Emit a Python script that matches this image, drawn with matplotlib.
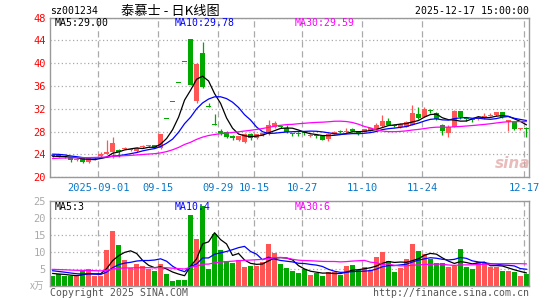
import numpy as np
import pandas as pd
import matplotlib
matplotlib.use("Agg")
import matplotlib.pyplot as plt

plt.rcParams['font.family'] = ['DejaVu Sans Mono', 'Noto Sans CJK SC']

# ---------- datos ----------
o = [23.9, 23.8, 23.7, 23.5, 23.0, 23.3, 22.6, 23.3, 23.7, 24.1,
     24.4, 24.8, 25.0, 24.7, 24.6, 25.25, 25.4, 25.6, 25.2, 30.2,
     33.2, 36.5, 40.2, 44.2, 33.4, 41.8, 32.3, 29.1, 28.2, 28.0,
     27.3, 26.5, 26.2, 27.5, 26.9, 27.35, 27.7, 28.85, 29.0, 28.6,
     27.6, 27.7, 27.8, 27.2, 27.3, 27.2, 26.75, 27.6, 28.05, 27.85,
     28.25, 28.1, 27.95, 28.15, 28.4, 29.0, 29.9, 29.1, 28.75, 28.85,
     29.2, 31.1, 30.6, 31.6, 31.3, 29.2, 27.7, 28.85, 31.65, 30.3,
     30.05, 30.15, 30.4, 30.8, 30.85, 31.4, 29.7, 29.7, 28.4, 28.5]
h = [24.0, 23.9, 23.8, 23.6, 23.3, 23.4, 23.3, 23.5, 24.4, 26.6,
     27.0, 25.0, 25.3, 25.0, 25.3, 25.7, 25.6, 25.7, 27.6, 30.2,
     33.2, 36.5, 40.2, 44.2, 40.0, 43.7, 33.0, 31.1, 28.4, 28.1,
     27.4, 27.3, 27.7, 27.7, 27.6, 27.8, 30.0, 29.85, 29.2, 29.2,
     27.8, 27.9, 28.1, 27.6, 27.5, 27.3, 27.7, 28.1, 28.3, 28.6,
     28.6, 28.2, 28.5, 28.7, 29.5, 30.9, 30.4, 29.3, 29.5, 29.8,
     32.65, 32.25, 32.3, 32.0, 31.4, 29.3, 29.2, 31.75, 31.7, 30.6,
     30.3, 30.8, 31.3, 31.2, 31.5, 31.5, 30.1, 29.8, 28.7, 28.8]
l = [23.6, 23.5, 23.4, 22.7, 22.9, 22.5, 22.5, 23.1, 23.5, 24.0,
     23.3, 23.6, 24.9, 24.6, 24.5, 25.2, 25.3, 25.1, 24.9, 30.2,
     33.2, 36.5, 40.2, 36.2, 33.1, 35.7, 32.3, 29.1, 27.4, 26.8,
     26.5, 26.4, 26.0, 26.6, 26.7, 27.2, 27.4, 28.7, 28.6, 27.8,
     27.2, 27.3, 27.4, 27.1, 26.9, 26.5, 26.4, 27.5, 27.7, 27.8,
     27.9, 27.4, 27.9, 28.1, 28.3, 28.9, 29.1, 28.8, 28.7, 28.8,
     29.1, 30.3, 30.5, 31.2, 30.0, 27.45, 27.1, 28.8, 30.3, 29.9,
     29.7, 30.1, 30.3, 30.7, 30.8, 30.4, 28.2, 28.3, 28.3, 27.1]
c = [23.7, 23.7, 23.6, 23.0, 23.2, 22.6, 23.3, 23.4, 24.0, 24.4,
     26.0, 24.4, 25.2, 24.9, 25.2, 25.5, 25.5, 25.2, 27.6, 30.2,
     33.2, 36.5, 40.2, 36.2, 39.8, 35.9, 32.3, 29.1, 27.7, 27.0,
     26.9, 27.2, 27.6, 26.9, 27.5, 27.7, 29.2, 29.55, 28.85, 27.9,
     27.5, 27.6, 27.7, 27.45, 27.2, 26.6, 27.6, 28.0, 28.0, 28.2,
     28.2, 27.5, 28.4, 28.6, 29.2, 29.9, 29.2, 29.0, 29.3, 29.7,
     31.3, 30.4, 32.0, 31.55, 30.15, 28.05, 28.75, 31.65, 30.6, 30.25,
     30.0, 30.6, 30.7, 30.85, 31.4, 30.5, 30.0, 28.5, 28.6, 28.4]
vol = [2.8, 3.4, 3.0, 2.8, 2.8, 4.2, 4.8, 2.8, 2.9, 10.4,
       16.0, 12.0, 7.7, 5.2, 6.5, 5.8, 4.8, 4.2, 6.5, 3.3,
       1.3, 1.8, 1.8, 20.7, 13.7, 23.5, 4.8, 15.2, 10.6, 7.3,
       6.6, 7.7, 5.6, 5.7, 5.8, 7.1, 12.3, 9.7, 6.4, 5.2,
       4.4, 3.8, 4.8, 3.1, 3.8, 3.0, 4.0, 4.0, 3.1, 5.8,
       6.0, 4.6, 5.4, 4.6, 8.3, 9.9, 7.4, 4.0, 5.2, 7.9,
       12.3, 10.1, 9.3, 7.9, 6.8, 6.8, 5.4, 5.8, 10.7, 5.4,
       4.8, 7.0, 6.8, 5.4, 5.6, 4.2, 4.2, 4.0, 3.0, 3.4]

# sesiones anteriores (solo para que las medias arranquen como en el gráfico)
pre_close = [22.3, 22.4, 22.5, 22.4, 22.6, 22.7, 22.6, 22.8, 22.9, 23.0,
             22.9, 23.1, 23.2, 23.0, 23.1, 23.3, 23.2, 23.4, 23.5, 23.6,
             24.0, 24.6, 24.8, 24.5, 24.1, 23.9, 23.7, 23.6, 23.6]
pre_vol = [5.2, 4.8, 5.5, 4.6, 5.0, 5.3, 4.7, 4.9, 5.1, 5.4,
           4.8, 5.0, 4.6, 5.2, 5.1, 4.9, 5.3, 4.7, 4.8, 5.1,
           5.6, 5.0, 5.3, 4.9, 5.2, 4.2, 3.6, 3.9, 3.5]

tick_dates = ["2025-09-01", "2025-09-15", "2025-09-29", "2025-10-15",
              "2025-10-27", "2025-11-10", "2025-11-24", "2025-12-17"]
tick_labels = ["2025-09-01", "09-15", "09-29", "10-15",
               "10-27", "11-10", "11-24", "12-17"]

# ---------- fechas de sesión ----------
days = pd.bdate_range("2025-08-20", "2025-12-17")
days = days[(days < "2025-10-01") | (days > "2025-10-08")]
pos = [days.get_loc(pd.Timestamp(d)) - 0.4 for d in tick_dates]

o, h, l, c, vol = map(np.array, (o, h, l, c, vol))
x = np.arange(len(c))

def ma(pre, vals, n):
    s = pd.Series(np.concatenate([pre, vals])).rolling(n).mean()
    return s.to_numpy()[len(pre):]

RED = "#ff5555"
GREEN = "#00a800"
GRID = "#aaaaaa"
col = np.where(c > o, RED, GREEN)

W, H = 545, 300
fig = plt.figure(figsize=(W / 100, H / 100), dpi=100)

def fx(px):
    return px / W

def fy(py):
    return 1 - py / H

ax = fig.add_axes([fx(50), fy(177.3), fx(529) - fx(50), fy(17.5) - fy(177.3)])
axv = fig.add_axes([fx(50), fy(285.7), fx(529) - fx(50), fy(200.7) - fy(285.7)])

for a in (ax, axv):
    a.set_xlim(-0.45, 79.45)
    a.set_xticks(pos)
    a.set_axisbelow(True)
    a.grid(axis="x", linestyle=(0, (5, 3)), color=GRID, lw=0.9)
    a.grid(axis="y", linestyle=(0, (1, 2)), color=GRID, lw=0.9)
    a.tick_params(length=0, pad=3)
    for sp in a.spines.values():
        sp.set_color("#999999")
        sp.set_linewidth(1)

# ---------- velas ----------
ax.vlines(x, l, h, colors=col, lw=0.9)
body = np.maximum(np.abs(c - o), 0.18)
ax.bar(x, body, bottom=np.minimum(o, c), width=0.83, color=col, linewidth=0)
ax.plot(x, ma(pre_close, c, 5), color="black", lw=0.9)
ax.plot(x, ma(pre_close, c, 10), color="#0000ff", lw=0.9)
ax.plot(x, ma(pre_close, c, 30), color="#ff00ff", lw=0.9)
ax.set_ylim(20, 48)
ax.set_yticks(np.arange(20, 49, 4))
ax.tick_params(axis="y", colors="#ff0000", labelsize=7.5)
ax.set_xticklabels(tick_labels, fontsize=7.5, color="#0a78c8")
ax.tick_params(axis="x", pad=4)

# ---------- volumen ----------
axv.bar(x, vol, width=0.83, color=col, linewidth=0)
axv.plot(x, ma(pre_vol, vol, 5), color="black", lw=0.9)
axv.plot(x, ma(pre_vol, vol, 10), color="#0000ff", lw=0.9)
axv.plot(x, ma(pre_vol, vol, 30), color="#ff00ff", lw=0.9)
axv.set_ylim(0, 25)
axv.set_yticks([5, 10, 15, 20, 25])
axv.tick_params(axis="y", colors="#aaaaaa", labelsize=7.5)
axv.set_xticklabels([])

# ---------- textos ----------
fs = 7.1
fig.text(fx(50), fy(11), "sz001234", fontsize=fs, va="center", ha="left")
fig.text(fx(121), fy(11), "泰慕士 - 日K线图", fontsize=9.5, va="center", ha="left",
         family=["Noto Sans CJK SC", "DejaVu Sans"])
fig.text(fx(529), fy(11), "2025-12-17 15:00:00", fontsize=fs, va="center", ha="right")
fig.text(fx(55), fy(23.5), "MA5:29.00", fontsize=fs, va="center", color="black")
fig.text(fx(175), fy(23.5), "MA10:29.78", fontsize=fs, va="center", color="#0000ff")
fig.text(fx(295), fy(23.5), "MA30:29.59", fontsize=fs, va="center", color="#ff00ff")
fig.text(fx(55), fy(206.5), "MA5:3", fontsize=fs, va="center", color="black")
fig.text(fx(175), fy(206.5), "MA10:4", fontsize=fs, va="center", color="#0000ff")
fig.text(fx(295), fy(206.5), "MA30:6", fontsize=fs, va="center", color="#ff00ff")
fig.text(fx(44), fy(285.5), "x万", fontsize=7, va="center", ha="right", color="#aaaaaa",
         family=["Noto Sans CJK SC", "DejaVu Sans"])
fig.text(fx(50), fy(292.5), "Copyright 2025 SINA.COM", fontsize=fs, va="center",
         color="#555555")
fig.text(fx(529), fy(292.5), "http://finance.sina.com.cn", fontsize=fs, va="center",
         ha="right", color="#555555")
fig.text(fx(513), fy(164), "sina", fontsize=11, va="center", ha="center",
         color="#e0a0a0", alpha=0.7, weight="bold", style="italic",
         family="DejaVu Sans")

fig.savefig("out.png", dpi=100)
